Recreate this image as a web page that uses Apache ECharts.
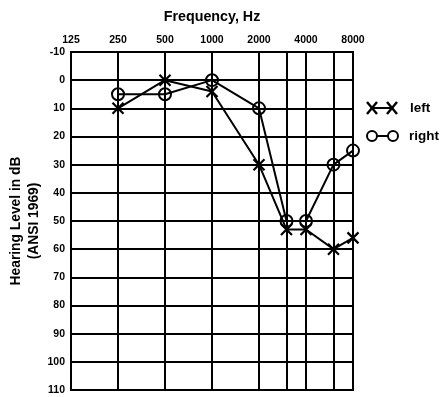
<!DOCTYPE html>
<html><head><meta charset="utf-8">
<script src="https://cdn.jsdelivr.net/npm/echarts@6/dist/echarts.min.js"></script>
<style>html,body{margin:0;padding:0;background:#fff}#c{width:442px;height:397px}</style>
</head><body><div id="c"></div>
<script>
// Data
var freqs = [250, 500, 1000, 2000, 3000, 4000, 6000, 8000];
var leftDb = [10, 0, 4, 30, 53, 53, 60, 56];
var rightDb = [5, 5, 0, 10, 50, 50, 30, 25];
var freqTickLabels = ['125', '250', '500', '1000', '2000', '4000', '8000'];
var midOctaveFreqs = [3000, 6000];
var baseFreq = 125;

function oct(f) { return Math.log2(f / baseFreq); }
function pts(arr) { return freqs.map(function (f, i) { return [oct(f), arr[i]]; }); }

var font = 'Liberation Sans, Arial, sans-serif';
var chart = echarts.init(document.getElementById('c'));
var xSym = 'path://M0,0L10,10M10,0L0,10';

chart.setOption({
  animation: false,
  backgroundColor: '#fff',
  grid: { left: 71, right: 89, top: 52, bottom: 7, containLabel: false, outerBoundsMode: 'none',
    show: true, borderColor: '#000', borderWidth: 2, backgroundColor: 'transparent' },
  xAxis: {
    type: 'value', position: 'top', min: 0, max: 6, interval: 1,
    name: 'Frequency, Hz', nameLocation: 'middle', nameGap: 28, nameMoveOverlap: false,
    nameTextStyle: { fontFamily: font, fontSize: 14.3, fontWeight: 'bold', color: '#000' },
    axisLine: { show: true, lineStyle: { color: '#000', width: 2 } },
    axisTick: { show: false },
    axisLabel: { margin: 6, fontFamily: font, fontSize: 10.5, fontWeight: 'bold', color: '#000',
      formatter: function (v) { return freqTickLabels[Math.round(v)]; } },
    splitLine: { show: true, lineStyle: { color: '#000', width: 2 } }
  },
  yAxis: {
    type: 'value', inverse: true, min: -10, max: 110, interval: 10,
    name: 'Hearing Level in dB\n(ANSI 1969)', nameLocation: 'middle', nameGap: 28, nameMoveOverlap: false,
    nameTextStyle: { fontFamily: font, fontSize: 13.8, fontWeight: 'bold', color: '#000', lineHeight: 18 },
    axisLine: { show: true, lineStyle: { color: '#000', width: 2 } },
    axisTick: { show: false },
    axisLabel: { margin: 6, fontFamily: font, fontSize: 10.5, fontWeight: 'bold', color: '#000' },
    splitLine: { show: true, lineStyle: { color: '#000', width: 2 } }
  },
  series: [
    {
      name: 'left', type: 'line', data: pts(leftDb),
      symbol: xSym, symbolSize: 11, showAllSymbol: true,
      lineStyle: { color: '#000', width: 2 },
      itemStyle: { color: '#000', borderColor: '#000', borderWidth: 2.2 },
      markLine: {
        silent: true, symbol: 'none', label: { show: false },
        lineStyle: { color: '#000', width: 2, type: 'solid' },
        data: midOctaveFreqs.map(function (f) { return { xAxis: oct(f) }; })
      },
      z: 3
    },
    {
      name: 'right', type: 'line', data: pts(rightDb),
      symbol: 'circle', symbolSize: 12, showAllSymbol: true,
      lineStyle: { color: '#000', width: 2 },
      itemStyle: { color: 'rgba(255,255,255,0)', borderColor: '#000', borderWidth: 2 },
      z: 4
    }
  ],
  graphic: [
    { type: 'line', shape: { x1: 367, y1: 102, x2: 377, y2: 114 }, style: { stroke: '#000', lineWidth: 2.4 } },
    { type: 'line', shape: { x1: 377, y1: 102, x2: 367, y2: 114 }, style: { stroke: '#000', lineWidth: 2.4 } },
    { type: 'line', shape: { x1: 372, y1: 108, x2: 392, y2: 108 }, style: { stroke: '#000', lineWidth: 2 } },
    { type: 'line', shape: { x1: 387, y1: 102, x2: 397, y2: 114 }, style: { stroke: '#000', lineWidth: 2.4 } },
    { type: 'line', shape: { x1: 397, y1: 102, x2: 387, y2: 114 }, style: { stroke: '#000', lineWidth: 2.4 } },
    { type: 'text', x: 410, y: 108, style: { text: 'left', font: 'bold 13.5px ' + font, fill: '#000', verticalAlign: 'middle' } },
    { type: 'circle', shape: { cx: 372, cy: 136, r: 5 }, style: { fill: '#fff', stroke: '#000', lineWidth: 2 } },
    { type: 'line', shape: { x1: 377, y1: 136, x2: 388, y2: 136 }, style: { stroke: '#000', lineWidth: 2 } },
    { type: 'circle', shape: { cx: 393, cy: 136, r: 5 }, style: { fill: '#fff', stroke: '#000', lineWidth: 2 } },
    { type: 'text', x: 409, y: 136, style: { text: 'right', font: 'bold 13.5px ' + font, fill: '#000', verticalAlign: 'middle' } }
  ]
});
</script></body></html>
